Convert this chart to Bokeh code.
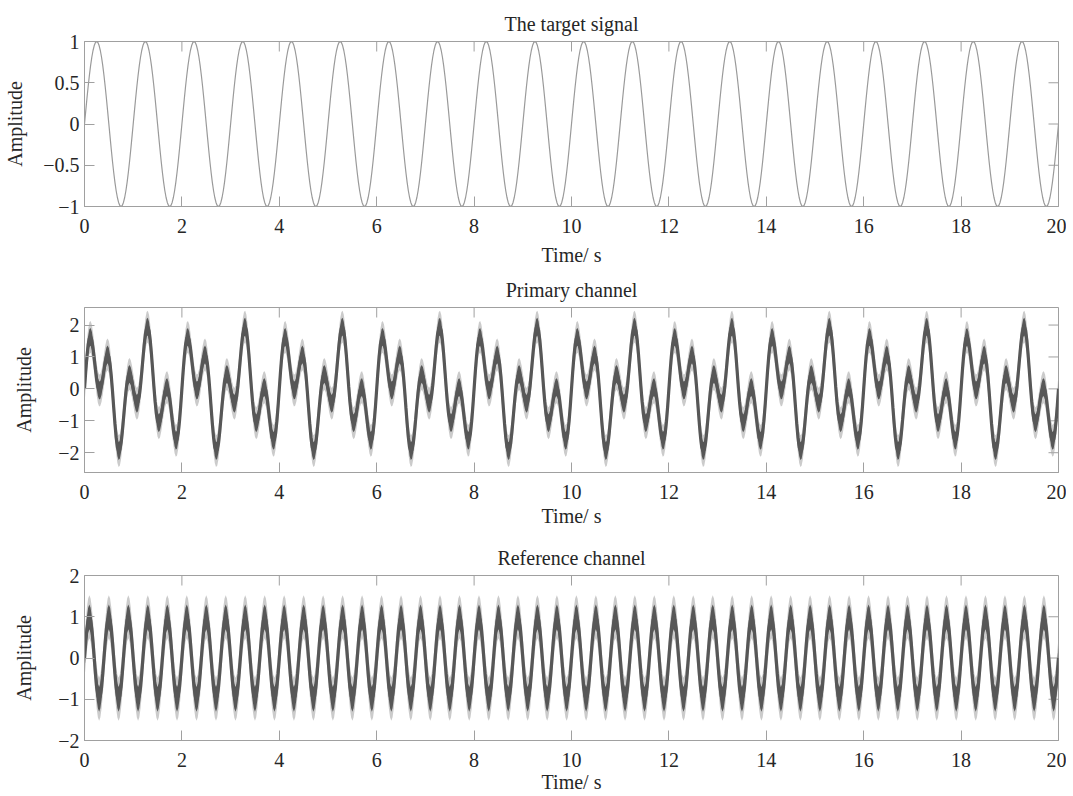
import numpy as np
from bokeh.plotting import figure
from bokeh.layouts import column
from bokeh.models import Range1d, FixedTicker, CustomJSTickFormatter, ColumnDataSource
from bokeh.embed import file_html
from bokeh.resources import INLINE

# ---------------- data ----------------
time_span = [0, 20]

# one period (1 s, every 0.025 s) of the target signal, repeated 20 times
target_cycle = [0.000, 0.156, 0.309, 0.454, 0.588, 0.707, 0.809, 0.891, 0.951, 0.988,
                1.000, 0.988, 0.951, 0.891, 0.809, 0.707, 0.588, 0.454, 0.309, 0.156,
                0.000, -0.156, -0.309, -0.454, -0.588, -0.707, -0.809, -0.891, -0.951, -0.988,
                -1.000, -0.988, -0.951, -0.891, -0.809, -0.707, -0.588, -0.454, -0.309, -0.156]
target_repeats = 20

# one period (2 s, every 0.025 s) of the primary channel (centre of the noisy band)
primary_cycle = [0.00, 0.54, 1.02, 1.38, 1.59, 1.63, 1.52, 1.27, 0.95, 0.61,
                 0.29, 0.06, -0.05, -0.03, 0.10, 0.32, 0.59, 0.84, 1.02, 1.08,
                 1.00, 0.77, 0.40, -0.07, -0.59, -1.09, -1.52, -1.82, -1.95, -1.91,
                 -1.71, -1.37, -0.95, -0.51, -0.10, 0.22, 0.41, 0.47, 0.40, 0.23,
                 0.00, -0.23, -0.40, -0.47, -0.41, -0.22, 0.10, 0.51, 0.95, 1.37,
                 1.71, 1.91, 1.95, 1.82, 1.52, 1.09, 0.59, 0.07, -0.40, -0.77,
                 -1.00, -1.08, -1.02, -0.84, -0.59, -0.32, -0.10, 0.03, 0.05, -0.06,
                 -0.29, -0.61, -0.95, -1.27, -1.52, -1.63, -1.59, -1.38, -1.02, -0.54]
primary_repeats = 10

# one period (0.4 s, every 0.025 s) of the reference channel (centre of the noisy band)
reference_cycle = [0.00, 0.38, 0.71, 0.92, 1.00, 0.92, 0.71, 0.38,
                   0.00, -0.38, -0.71, -0.92, -1.00, -0.92, -0.71, -0.38]
reference_repeats = 50

x_ticks = [0, 2, 4, 6, 8, 10, 12, 14, 16, 18, 20]
target_y_ticks = [-1, -0.5, 0, 0.5, 1]
primary_y_ticks = [-2, -1, 0, 1, 2]
reference_y_ticks = [-2, -1, 0, 1, 2]
target_y_range = [-1, 1]
primary_y_range = [-2.62, 2.55]
reference_y_range = [-2, 2]

titles = ["The target signal", "Primary channel", "Reference channel"]
x_label = "Time/ s"
y_label = "Amplitude"

# ---------------- style ----------------
FONT = "Liberation Serif"
FS = "20px"
TEXT = "#262626"
FRAME = "#a0a0a0"
DARK = "#575757"
LIGHT = "#a8a8a8"
TARGET = "#9a9a9a"
FRAME_W = 974
FRAME_H = 165
TICK_LEN = 10

minus_fmt = "return String(tick).replace('-', '\\u2212');"


def series(cycle, repeats):
    y = np.array(cycle * repeats + [cycle[0]], dtype=float)
    t = np.linspace(time_span[0], time_span[1], len(y))
    return t, y


def style_axis(ax, ticks):
    ax.ticker = FixedTicker(ticks=ticks)
    ax.major_tick_in = TICK_LEN
    ax.major_tick_out = 0
    ax.minor_tick_in = 0
    ax.minor_tick_out = 0
    ax.axis_line_color = FRAME
    ax.major_tick_line_color = FRAME
    ax.major_label_text_font = FONT
    ax.major_label_text_font_size = FS
    ax.major_label_text_color = TEXT
    ax.axis_label_text_font = FONT
    ax.axis_label_text_font_size = FS
    ax.axis_label_text_font_style = "normal"
    ax.axis_label_text_color = TEXT
    ax.formatter = CustomJSTickFormatter(code=minus_fmt)


def make_fig(title, y_range, y_ticks, top, bottom, ylab_standoff, xlab_standoff):
    p = figure(frame_width=FRAME_W, frame_height=FRAME_H,
               x_range=Range1d(*time_span), y_range=Range1d(*y_range),
               output_backend="svg", toolbar_location=None,
               min_border_left=84, min_border_right=8,
               min_border_top=top, min_border_bottom=bottom)
    p.grid.visible = False
    p.outline_line_color = FRAME
    p.background_fill_color = "white"
    p.border_fill_color = "white"

    style_axis(p.xaxis[0], x_ticks)
    p.xaxis[0].axis_label = x_label
    p.xaxis[0].major_label_standoff = 12
    p.xaxis[0].axis_label_standoff = xlab_standoff
    style_axis(p.yaxis[0], y_ticks)
    p.yaxis[0].axis_label = y_label
    p.yaxis[0].major_label_standoff = 5
    p.yaxis[0].axis_label_standoff = ylab_standoff

    # box ticks on the top and right edges (MATLAB style)
    y0, y1 = y_range
    x0, x1 = time_span
    dy = TICK_LEN * (y1 - y0) / FRAME_H
    dx = TICK_LEN * (x1 - x0) / FRAME_W
    p.segment(x0=x_ticks, y0=[y1] * len(x_ticks), x1=x_ticks, y1=[y1 - dy] * len(x_ticks),
              line_color=FRAME, line_width=1)
    p.segment(x0=[x1] * len(y_ticks), y0=y_ticks, x1=[x1 - dx] * len(y_ticks), y1=y_ticks,
              line_color=FRAME, line_width=1)

    p.title.text = title
    p.title.align = "center"
    p.title.text_font = FONT
    p.title.text_font_size = FS
    p.title.text_font_style = "normal"
    p.title.text_color = TEXT
    p.title.standoff = 13
    return p


def noisy_band(p, t, y, core, fringe):
    src = ColumnDataSource(dict(t=t, y=y,
                                flo=y - fringe, fhi=y + fringe,
                                clo=y - core, chi=y + core))
    p.varea(x="t", y1="flo", y2="fhi", source=src, fill_color=LIGHT, fill_alpha=0.6)
    p.varea(x="t", y1="clo", y2="chi", source=src, fill_color=DARK)
    p.line(x="t", y="y", source=src, line_color=DARK, line_width=3.2)


p1 = make_fig(titles[0], target_y_range, target_y_ticks, 41, 64, 14, 8)
t1, y1 = series(target_cycle, target_repeats)
p1.line(t1, y1, line_color=TARGET, line_width=1.2)

p2 = make_fig(titles[1], primary_y_range, primary_y_ticks, 34, 66, 20, 3)
t2, y2 = series(primary_cycle, primary_repeats)
noisy_band(p2, t2, y2, 0.28, 0.5)

p3 = make_fig(titles[2], reference_y_range, reference_y_ticks, 36, 50, 20, 1)
t3, y3 = series(reference_cycle, reference_repeats)
noisy_band(p3, t3, y3, 0.3, 0.52)

layout = column(p1, p2, p3, spacing=0)
open("out.html", "w", encoding="utf-8").write(file_html(layout, INLINE))
